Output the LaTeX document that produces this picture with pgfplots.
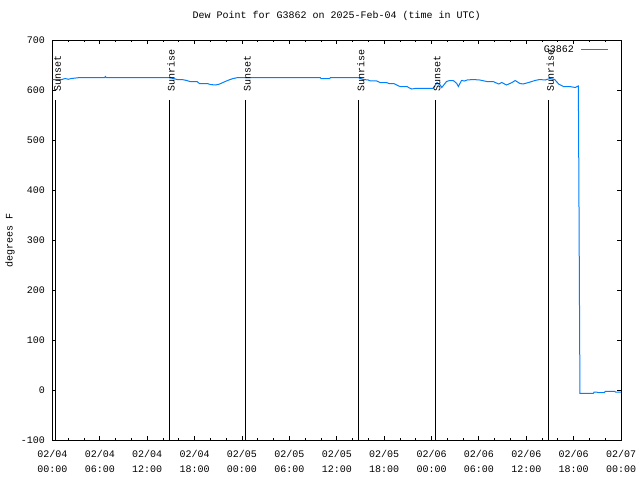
\documentclass[border=0pt]{standalone}
\usepackage{pgfplots}
\pgfplotsset{compat=1.18}
\usepackage{fontspec}
\setmainfont{Liberation Mono}
\definecolor{gblue}{RGB}{0,128,255}

\pgfplotstableread{
h v
0.0 621
1.2 621
1.6 623
2.0 621.5
2.4 623
3.5 625
6.6 625
6.7 627
6.8 625
14.7 625
15.3 623
15.8 621
16.4 621
17.0 619
17.4 617
18.3 617
18.6 613
19.6 613
20.0 611
20.6 610
21.0 611
21.3 613
22.1 618.5
22.5 621
22.9 623
23.5 625
33.9 625
34.0 623
35.1 623
35.2 625
38.7 625
39.0 623
39.4 621
40.0 620
40.2 618.5
41.0 618.5
41.5 615
42.3 615
42.6 613
43.2 613
43.6 610
44.0 607
44.9 607
45.2 604
45.5 602
46.1 603.5
48.2 603.5
48.7 615
49.1 610
49.3 605
49.9 617
50.3 619
50.8 618.5
51.2 613
51.4 607
51.8 619
52.2 618
52.5 620
53.3 621
54.1 620
55.0 617
55.8 617
56.5 612
56.9 615
57.5 610
58.2 615
58.6 619
59.2 613
59.6 612
60.3 615
61.1 619
61.7 621
62.4 620
63.0 623
63.6 621
64.1 612
64.7 607
65.5 607
66.2 605
66.6 608
66.65 460
66.8 -6.7
68.5 -6.7
68.6 -4
68.9 -4
69.1 -5.3
69.9 -5.3
70.0 -2.7
71.2 -2.7
71.3 -4
72.0 -4
}\dewdata

\begin{document}
\begin{tikzpicture}[font=\fontsize{10bp}{12bp}\selectfont]
\useasboundingbox (0,0) rectangle (640bp,480bp);
\begin{axis}[
  at={(52.5bp,40bp)}, anchor=south west,
  scale only axis, width=568.5bp, height=400bp,
  xmin=0, xmax=72, ymin=-100, ymax=700,
  axis line style={black, line width=1bp},
  xtick={0,6,...,72},
  xticklabels={{02/04\\00:00},{02/04\\06:00},{02/04\\12:00},{02/04\\18:00},{02/05\\00:00},{02/05\\06:00},{02/05\\12:00},{02/05\\18:00},{02/06\\00:00},{02/06\\06:00},{02/06\\12:00},{02/06\\18:00},{02/07\\00:00}},
  xticklabel style={align=center, font=\fontsize{10bp}{15bp}\selectfont, yshift=-7bp},
  minor x tick num=2,
  ytick={-100,0,100,...,700},
  yticklabels={{-100},0,100,200,300,400,500,600,700},
  yticklabel style={xshift=-4bp},
  tick align=inside,
  major tick length=4bp, minor tick length=2bp,
  tick style={black, line width=0.8bp},
  title={Dew Point for G3862 on 2025-Feb-04 (time in UTC)},
  title style={at={(axis description cs:0.5,1)}, anchor=base, yshift=16bp},
  ylabel={degrees F},
  ylabel style={at={(axis description cs:-0.0748,0.5)}, anchor=center},
  legend plot pos=right,
  legend style={draw=none, fill=none, at={(axis description cs:1,1)}, anchor=north east, xshift=-12bp, yshift=-6bp, inner sep=0pt, nodes={inner sep=0pt}},
  legend image code/.code={\draw[#1] (0bp,1bp) -- (27bp,1bp);},
]
\addplot[gblue, line width=1bp] table[x=h, y=v] {\dewdata};
\addlegendentry{G3862\kern7bp\relax}
\addplot[black, line width=1bp, forget plot] coordinates {(0.40,-100) (0.40,580)};
\addplot[black, line width=1bp, forget plot] coordinates {(14.78,-100) (14.78,580)};
\addplot[black, line width=1bp, forget plot] coordinates {(24.43,-100) (24.43,580)};
\addplot[black, line width=1bp, forget plot] coordinates {(38.80,-100) (38.80,580)};
\addplot[black, line width=1bp, forget plot] coordinates {(48.45,-100) (48.45,580)};
\addplot[black, line width=1bp, forget plot] coordinates {(62.80,-100) (62.80,580)};
\node[rotate=90, anchor=west, inner sep=0pt] at (axis cs:0.65,596) {Sunset};
\node[rotate=90, anchor=west, inner sep=0pt] at (axis cs:15.03,596) {Sunrise};
\node[rotate=90, anchor=west, inner sep=0pt] at (axis cs:24.68,596) {Sunset};
\node[rotate=90, anchor=west, inner sep=0pt] at (axis cs:39.05,596) {Sunrise};
\node[rotate=90, anchor=west, inner sep=0pt] at (axis cs:48.70,596) {Sunset};
\node[rotate=90, anchor=west, inner sep=0pt] at (axis cs:63.05,596) {Sunrise};
\end{axis}
\end{tikzpicture}
\end{document}
